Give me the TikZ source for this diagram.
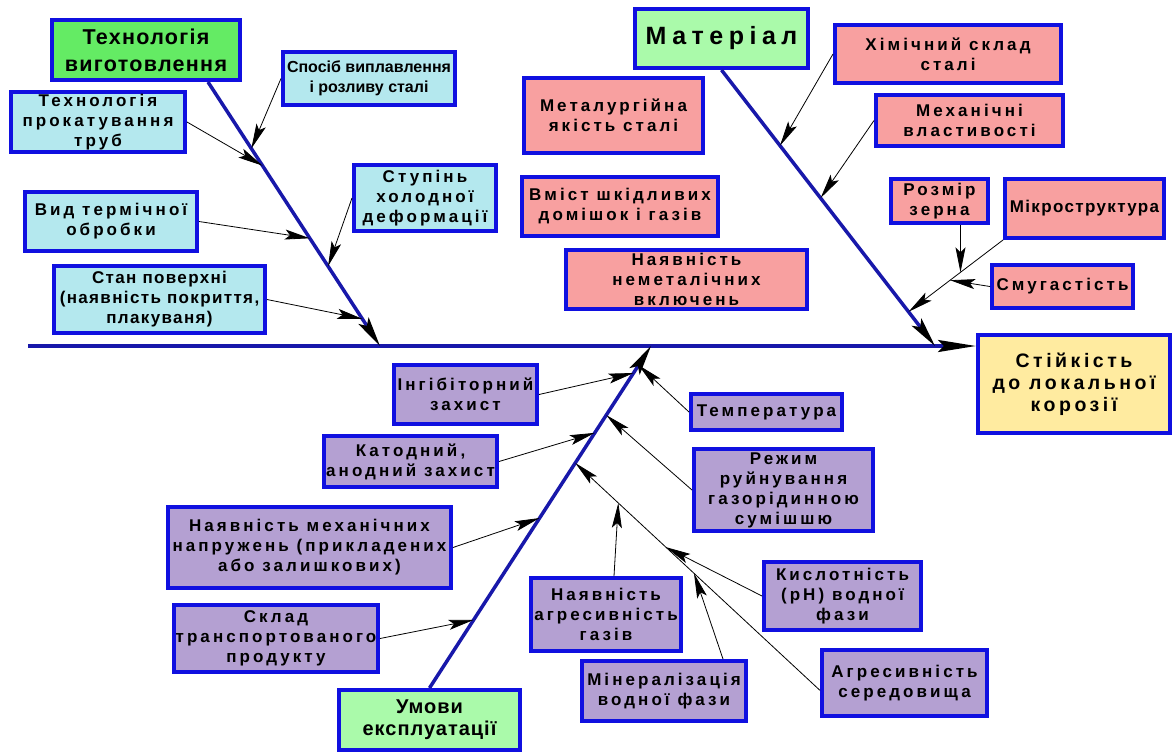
\documentclass[tikz,border=0pt]{standalone}
\usepackage{fontspec}
\setmainfont{Liberation Sans}
\newfontfamily\rotulo[LetterSpace=18]{Liberation Sans}
\usetikzlibrary{arrows.meta, calc}
\definecolor{borde}{RGB}{16,16,224}
\definecolor{espina}{RGB}{24,24,170}
\definecolor{cian}{RGB}{180,232,238}
\definecolor{rosa}{RGB}{248,160,160}
\definecolor{lila}{RGB}{180,160,210}
\definecolor{verde}{RGB}{100,235,100}
\definecolor{verdeclaro}{RGB}{170,250,170}
\definecolor{amarillo}{RGB}{255,235,160}
\tikzstyle{caja} = [draw=borde, line width=4pt, rectangle, align=center, inner sep=1pt, font=\rotulo\bfseries\fontsize{17}{20}\selectfont]
\tikzstyle{estrecha} = [font=\bfseries\fontsize{16}{20}\selectfont]
\tikzstyle{cian} = [caja, fill=cian]
\tikzstyle{rosa} = [caja, fill=rosa]
\tikzstyle{lila} = [caja, fill=lila]
\tikzstyle{categoria} = [caja, fill=verdeclaro, font=\rotulo\bfseries\fontsize{22}{27}\selectfont]
\tikzstyle{efecto} = [caja, fill=amarillo, font=\rotulo\bfseries\fontsize{19.5}{22}\selectfont]
\tikzstyle{hueso} = [draw=espina, line width=3.5pt, -{Stealth[color=black, length=30pt, width=12pt, inset=6pt]}]
\tikzstyle{flecha} = [draw=black, line width=0.8pt, -{Stealth[length=25pt, width=10pt, inset=5pt]}]

\begin{document}
\begin{tikzpicture}[x=1pt, y=-1pt]
	\useasboundingbox (0,0) rectangle (1174,753);

	% efecto y espina
	\node[efecto, minimum width=192pt, minimum height=98pt] (efecto) at (1074,384) {Стійкість\\до локальної\\корозії};
	\coordinate (cola) at (28,346);
	\draw[hueso, -{Stealth[color=black, length=38pt, width=12pt, inset=6pt]}] (cola) -- (cola -| efecto.west);

	% Технологія виготовлення
	\node[categoria, fill=verde, font=\rotulo\bfseries\fontsize{21.5}{27}\selectfont\addfontfeature{LetterSpace=6}, minimum width=188pt, minimum height=60pt] (tecno) at (146,50) {Технологія\\виготовлення};
	\node[cian, estrecha, minimum width=172pt, minimum height=53pt] (sposib) at (369,78.5) {Спосіб виплавлення\\і розливу сталі};
	\node[cian, minimum width=174pt, minimum height=60pt] (prokat) at (98,122) {Технологія\\прокатування\\труб};
	\node[cian, minimum width=142pt, minimum height=66pt] (stupin) at (425,198) {Ступінь\\холодної\\деформації};
	\node[cian, minimum width=172pt, minimum height=59pt] (vyd) at (111,221.5) {Вид термічної\\обробки};
	\node[cian, font=\rotulo\bfseries\fontsize{17}{20}\selectfont\addfontfeature{LetterSpace=8}, minimum width=211pt, minimum height=67pt] (stan) at (159.5,299.5) {Стан поверхні\\(наявність покриття,\\плакуваня)};
	\coordinate (h1) at ([xshift=62pt]tecno.south);
	\coordinate (e1) at (380,346);
	\draw[hueso] (h1) -- (e1);
	\draw[flecha] (sposib.west) -- ($(h1)!0.252!(e1)$);
	\draw[flecha] (prokat.east) -- ($(h1)!0.317!(e1)$);
	\draw[flecha] (stupin.west) -- ($(h1)!0.698!(e1)$);
	\draw[flecha] (vyd.east) -- ($(h1)!0.592!(e1)$);
	\draw[flecha] (stan.east) -- ($(h1)!0.897!(e1)$);

	% Матеріал
	\node[categoria, font=\rotulo\bfseries\fontsize{25}{28}\selectfont\addfontfeature{LetterSpace=22}, minimum width=173pt, minimum height=59pt] (mater) at (721.5,38.5) {Матеріал};
	\node[rosa, minimum width=226pt, minimum height=58pt] (khim) at (948,54) {Хімічний склад\\сталі};
	\node[rosa, minimum width=179pt, minimum height=75pt] (metal) at (613.5,115.5) {Металургійна\\якість сталі};
	\node[rosa, minimum width=187pt, minimum height=51pt] (mekh) at (969.5,120.5) {Механічні\\властивості};
	\node[rosa, minimum width=196pt, minimum height=59pt] (vmist) at (620,206.5) {Вміст шкідливих\\домішок і газів};
	\node[rosa, minimum width=97pt, minimum height=44pt] (rozmir) at (939.5,201) {Розмір\\зерна};
	\node[rosa, font=\rotulo\bfseries\fontsize{17}{20}\selectfont\addfontfeature{LetterSpace=8}, minimum width=159pt, minimum height=59pt] (mikro) at (1084.5,208.5) {Мікроструктура};
	\node[rosa, minimum width=241pt, minimum height=59pt] (nayavn) at (686.5,279.5) {Наявність\\неметалічних\\включень};
	\node[rosa, minimum width=141pt, minimum height=43pt] (smuh) at (1062.5,286.5) {Смугастість};
	\coordinate (e2) at (935,346);
	\draw[hueso] (mater.south) -- (e2);
	\coordinate (m3) at ($(mater.south)!0.876!(e2)$);
	\draw[flecha] (khim.west) -- ($(mater.south)!0.274!(e2)$);
	\draw[flecha] (mekh.west) -- ($(mater.south)!0.464!(e2)$);
	\draw[flecha] (mikro.south west) -- (m3);
	\coordinate (r1) at ($(mikro.south west)!0.45!(m3)$);
	\draw[flecha] (rozmir.south -| r1) -- (r1);
	\draw[flecha] (smuh.west) -- ($(mikro.south west)!0.56!(m3)$);

	% Умови експлуатації
	\node[categoria, font=\rotulo\bfseries\fontsize{20}{22}\selectfont\addfontfeature{LetterSpace=5}, minimum width=181pt, minimum height=60pt] (umovy) at (429.5,720) {Умови\\експлуатації};
	\node[lila, minimum width=143pt, minimum height=59pt] (inhib) at (465.5,394.5) {Інгібіторний\\захист};
	\node[lila, minimum width=173pt, minimum height=51pt] (katod) at (410.5,461.5) {Катодний,\\анодний захист};
	\node[lila, minimum width=283pt, minimum height=81pt] (napruzh) at (309.5,547.5) {Наявність механічних\\напружень (прикладених\\або залишкових)};
	\node[lila, minimum width=204pt, minimum height=67pt] (sklad) at (276,638.5) {Склад\\транспортованого\\продукту};
	\node[lila, minimum width=151pt, minimum height=36pt] (temp) at (766.5,412) {Температура};
	\node[lila, minimum width=179pt, minimum height=82pt] (rezhym) at (783.5,490) {Режим\\руйнування\\газорідинною\\сумішшю};
	\node[lila, minimum width=150pt, minimum height=73pt] (gaziv) at (606,614.5) {Наявність\\агресивність\\газів};
	\node[lila, minimum width=164pt, minimum height=60pt] (miner) at (664,691) {Мінералізація\\водної фази};
	\node[lila, minimum width=157pt, minimum height=68pt] (kysl) at (842.5,596) {Кислотність\\(pH) водної\\фази};
	\node[lila, minimum width=165pt, minimum height=66pt] (agres) at (904.5,683) {Агресивність\\середовища};
	\coordinate (e3) at (651,346);
	\draw[hueso] (umovy.north) -- (e3);
	\coordinate (a1) at ($(umovy.north)!0.658!(e3)$);
	\draw[flecha] (inhib.east) -- ($(umovy.north)!0.921!(e3)$);
	\draw[flecha] (katod.east) -- ($(umovy.north)!0.746!(e3)$);
	\draw[flecha] (napruzh.east) -- ($(umovy.north)!0.497!(e3)$);
	\draw[flecha] (sklad.east) -- ($(umovy.north)!0.199!(e3)$);
	\draw[flecha] (temp.west) -- ($(umovy.north)!0.944!(e3)$);
	\draw[flecha] (rezhym.west) -- ($(umovy.north)!0.798!(e3)$);
	\draw[flecha] (agres.185) -- (a1);
	\draw[flecha] (kysl.west) -- ($(agres.185)!0.63!(a1)$);
	\draw[flecha] ([xshift=59pt]miner.north) -- ($(agres.185)!0.515!(a1)$);
	\draw[flecha] ([xshift=8pt]gaziv.north) -- ($(agres.185)!0.824!(a1)$);
\end{tikzpicture}
\end{document}
